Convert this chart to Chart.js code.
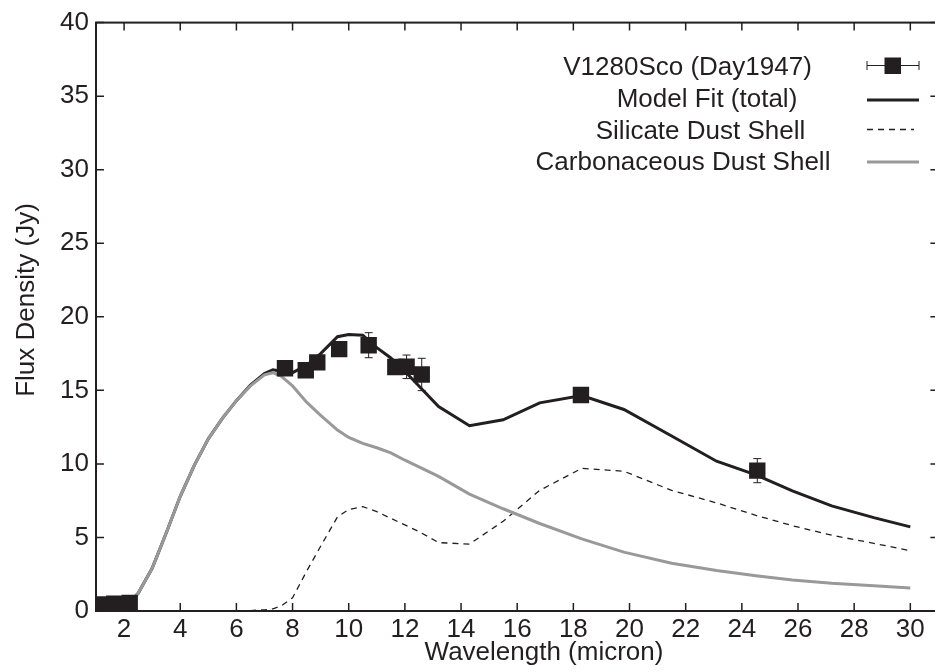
<!DOCTYPE html>
<html>
<head>
<meta charset="utf-8">
<script src="https://cdn.jsdelivr.net/npm/chart.js@4.4.1/dist/chart.umd.min.js"></script>
<style>
  html, body { margin: 0; padding: 0; overflow: hidden; background: #fff; }
  #wrap { width: 950px; height: 672px; }
</style>
</head>
<body>
<div id="wrap"><canvas id="sed" width="950" height="672"></canvas></div>
<script>
// observed photometry, day 1947 (micron / Jy)
const obsWave = [1.25, 1.65, 2.2, 7.73, 8.47, 8.88, 9.66, 10.71, 11.66, 12.06, 12.6, 18.27, 24.55];
const obsFlux = [0.45, 0.5, 0.55, 16.5, 16.37, 16.9, 17.8, 18.07, 16.59, 16.6, 16.08, 14.68, 9.54];
const obsErr = [0, 0, 0, 0, 0, 0, 0, 0.85, 0, 0.8, 1.1, 0, 0.82];

// model grid
const modelWave = [1.0, 1.5, 2.0, 2.5, 3.0, 3.5, 4.0, 4.5, 5.0, 5.5, 6.0, 6.5, 7.0, 7.3, 7.6, 8.0, 8.5, 9.0, 9.6, 10.0,
  10.5, 11.0, 11.5, 12.0, 12.5, 13.2, 14.3, 15.5, 16.8, 18.3, 19.8, 21.5, 23.1, 24.5, 25.8, 27.2, 28.7, 30.0];
const totalFlux = [0, 0.03, 0.2, 1.2, 2.9, 5.3, 7.8, 9.9, 11.7, 13.1, 14.3, 15.35, 16.15, 16.4, 16.3, 16.2, 16.7, 17.5, 18.65, 18.8,
  18.75, 17.9, 17.2, 16.3, 15.3, 13.9, 12.6, 13.0, 14.15, 14.65, 13.7, 11.9, 10.18, 9.25, 8.16, 7.15, 6.35, 5.72];
const silicateFlux = [0, 0, 0, 0, 0, 0, 0, 0, 0, 0, 0.01, 0.03, 0.08, 0.15, 0.35, 0.9, 2.7, 4.4, 6.4, 6.9,
  7.1, 6.75, 6.3, 5.85, 5.4, 4.65, 4.55, 6.1, 8.2, 9.7, 9.5, 8.2, 7.35, 6.5, 5.8, 5.15, 4.6, 4.1];
const carbonFlux = [0, 0.03, 0.2, 1.2, 2.9, 5.3, 7.8, 9.9, 11.7, 13.1, 14.3, 15.3, 16.05, 16.2, 15.95, 15.3, 14.2, 13.3, 12.3, 11.8,
  11.4, 11.1, 10.75, 10.25, 9.8, 9.15, 7.95, 6.95, 5.95, 4.9, 4.0, 3.25, 2.76, 2.4, 2.1, 1.88, 1.72, 1.57];

const xTicks = [2, 4, 6, 8, 10, 12, 14, 16, 18, 20, 22, 24, 26, 28, 30];
const yTicks = [0, 5, 10, 15, 20, 25, 30, 35, 40];

const legendLabels = ["V1280Sco (Day1947)", "Model Fit (total)", "Silicate Dust Shell", "Carbonaceous Dust Shell"];

const ink = "#231f20";
const gray = "#999999";
const family = "'Liberation Sans', Arial, Helvetica, sans-serif";
const font26 = "26px " + family;

const pairs = (xs, ys) => xs.map((v, i) => ({ x: v, y: ys[i] }));

const framePlugin = {
  id: "frame",
  afterDatasetsDraw(chart) {
    const { ctx, chartArea: a } = chart;
    const x = chart.scales.x, y = chart.scales.y;
    ctx.save();
    // error bars
    ctx.strokeStyle = ink;
    ctx.lineWidth = 1;
    obsWave.forEach((w, i) => {
      if (!obsErr[i]) return;
      const px = x.getPixelForValue(w);
      const y1 = y.getPixelForValue(obsFlux[i] + obsErr[i]);
      const y2 = y.getPixelForValue(obsFlux[i] - obsErr[i]);
      ctx.beginPath();
      ctx.moveTo(px, y1); ctx.lineTo(px, y2);
      ctx.moveTo(px - 4, y1); ctx.lineTo(px + 4, y1);
      ctx.moveTo(px - 4, y2); ctx.lineTo(px + 4, y2);
      ctx.stroke();
    });
    // box with inward ticks
    ctx.lineWidth = 2;
    ctx.strokeRect(a.left, a.top, a.right - a.left, a.bottom - a.top);
    ctx.lineWidth = 1.5;
    ctx.beginPath();
    xTicks.forEach(v => {
      const px = x.getPixelForValue(v);
      ctx.moveTo(px, a.bottom); ctx.lineTo(px, a.bottom - 8);
      ctx.moveTo(px, a.top); ctx.lineTo(px, a.top + 8);
    });
    yTicks.forEach(v => {
      const py = y.getPixelForValue(v);
      ctx.moveTo(a.left, py); ctx.lineTo(a.left + 8, py);
      ctx.moveTo(a.right, py); ctx.lineTo(a.right - 8, py);
    });
    ctx.stroke();
    ctx.restore();
  },
  afterDraw(chart) {
    const ctx = chart.ctx;
    ctx.save();
    ctx.fillStyle = ink;
    ctx.font = font26;
    ctx.textAlign = "center";
    ctx.textBaseline = "alphabetic";
    // axis titles
    ctx.fillText("Wavelength (micron)", 544, 660);
    ctx.save();
    ctx.translate(33.5, 300);
    ctx.rotate(-Math.PI / 2);
    ctx.fillText("Flux Density (Jy)", 0, 0);
    ctx.restore();

    // legend
    const centers = [687.5, 707, 700.5, 683];
    const baselines = [75, 107, 138.5, 170];
    const rows = [65.5, 100, 129.5, 162];
    const x0 = 867, x1 = 919;
    legendLabels.forEach((t, i) => ctx.fillText(t, centers[i], baselines[i]));

    ctx.strokeStyle = ink;
    ctx.lineWidth = 1;
    ctx.beginPath();
    ctx.moveTo(x0, rows[0]); ctx.lineTo(x1, rows[0]);
    ctx.moveTo(x0, rows[0] - 4.5); ctx.lineTo(x0, rows[0] + 4.5);
    ctx.moveTo(x1, rows[0] - 4.5); ctx.lineTo(x1, rows[0] + 4.5);
    ctx.stroke();
    ctx.fillRect(884.5, rows[0] - 8, 16.5, 16.5);

    ctx.lineWidth = 3;
    ctx.beginPath();
    ctx.moveTo(x0, rows[1]); ctx.lineTo(x1, rows[1]);
    ctx.stroke();

    ctx.lineWidth = 1.3;
    ctx.setLineDash([6, 5]);
    ctx.beginPath();
    ctx.moveTo(x0, rows[2]); ctx.lineTo(x1 - 5, rows[2]);
    ctx.stroke();
    ctx.setLineDash([]);

    ctx.strokeStyle = gray;
    ctx.lineWidth = 3;
    ctx.beginPath();
    ctx.moveTo(x0, rows[3]); ctx.lineTo(x1, rows[3]);
    ctx.stroke();
    ctx.restore();
  }
};

const tickFont = { family: family, size: 26 };

new Chart(document.getElementById("sed"), {
  type: "line",
  data: {
    datasets: [
      {
        label: legendLabels[0],
        data: pairs(obsWave, obsFlux),
        showLine: false,
        pointStyle: "rect",
        pointRadius: 11.6,
        pointBorderWidth: 0,
        pointBackgroundColor: ink,
      },
      {
        label: legendLabels[3],
        data: pairs(modelWave, carbonFlux),
        borderColor: gray,
        borderWidth: 3,
        pointRadius: 0,
        tension: 0,
      },
      {
        label: legendLabels[2],
        data: pairs(modelWave, silicateFlux),
        borderColor: ink,
        borderWidth: 1.3,
        borderDash: [6, 5],
        pointRadius: 0,
        tension: 0,
      },
      {
        label: legendLabels[1],
        data: pairs(modelWave, totalFlux),
        borderColor: ink,
        borderWidth: 3,
        pointRadius: 0,
        tension: 0,
      },
    ],
  },
  options: {
    responsive: false,
    animation: false,
    layout: { padding: { top: 18, right: 8, left: 0, bottom: 0 } },
    plugins: {
      legend: { display: false },
      tooltip: { enabled: false },
    },
    scales: {
      x: {
        type: "linear",
        min: 1,
        max: 31,
        afterBuildTicks: (s) => { s.ticks = xTicks.map(v => ({ value: v })); },
        afterFit: (s) => { s.height = 61; },
        grid: { display: false, drawTicks: false },
        border: { display: false },
        ticks: { font: tickFont, color: ink, padding: 3, maxRotation: 0, autoSkip: false },
      },
      y: {
        type: "linear",
        min: 0,
        max: 40,
        afterBuildTicks: (s) => { s.ticks = yTicks.map(v => ({ value: v })); },
        afterFit: (s) => { s.width = 96; },
        grid: { display: false, drawTicks: false },
        border: { display: false },
        ticks: { font: tickFont, color: ink, padding: 7 },
      },
    },
  },
  plugins: [framePlugin],
});
</script>
</body>
</html>
